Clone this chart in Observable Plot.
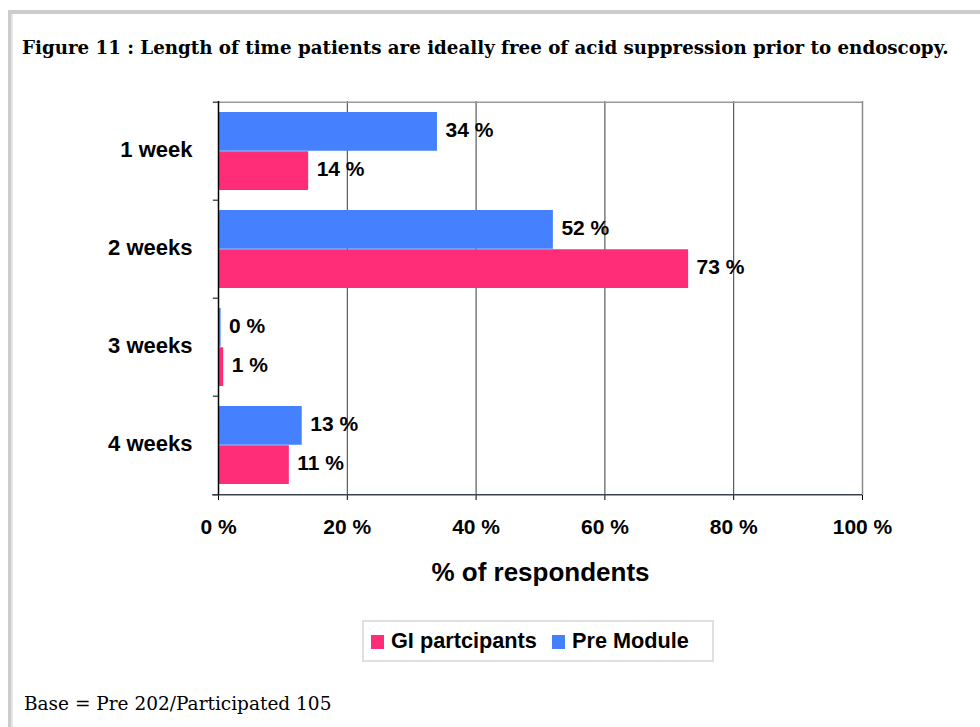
<!DOCTYPE html>
<html>
<head>
<meta charset="utf-8">
<script src="https://cdn.jsdelivr.net/npm/d3@7"></script>
<script src="https://cdn.jsdelivr.net/npm/@observablehq/plot@0.6"></script>
<style>
  html, body { margin: 0; padding: 0; background: #fff; }
  #page { position: relative; width: 980px; height: 727px; overflow: hidden; background: #fff; }
  #frame { position: absolute; left: 8px; top: 10px; width: 990px; height: 740px;
           border-top: 4px solid #cccccc; border-left: 3px solid #cccccc; box-shadow: inset 2px 0 0 #e6e6e6; }
  #title { position: absolute; left: 22px; top: 37px; font-family: "DejaVu Serif", serif; font-weight: bold;
           font-size: 18.25px; color: #000; white-space: nowrap; }
  #chart { position: absolute; left: 0; top: 0; }
  #legend { position: absolute; left: 362px; top: 620px; width: 348px; height: 38px; border: 2px solid #e0e0e0;
            background: #fff; font-family: "Liberation Sans", Arial, sans-serif; font-weight: bold; font-size: 21.7px; }
  #legend .item { position: absolute; top: 7px; white-space: nowrap; line-height: 24px; }
  #legend .sw { display: inline-block; width: 13px; height: 14px; vertical-align: -1px; margin-right: 7px; }
  #base { position: absolute; left: 24px; top: 693px; font-family: "DejaVu Serif", serif; font-size: 18.5px; color: #000; white-space: nowrap; }
  #chart g[aria-label="x-axis label"] text { font-size: 26px; }
</style>
</head>
<body>
<div id="page">
  <div id="frame"></div>
  <div id="title"></div>
  <div id="chart"></div>
  <div id="legend"></div>
  <div id="base"></div>
</div>
<script>
// ---- data ----
const titleText = "Figure 11 : Length of time patients are ideally free of acid suppression prior to endoscopy.";
const baseText = "Base = Pre 202/Participated 105";
const categories = ["1 week", "2 weeks", "3 weeks", "4 weeks"];
const seriesNames = ["GI partcipants", "Pre Module"];
const seriesColors = ["#ff2d78", "#4580ff"];
const giValues = [14, 73, 0.8, 11];
const preValues = [34, 52, 0.4, 13];
const xTicks = [0, 20, 40, 60, 80, 100];
const gridTicks = [20, 40, 60, 80];
const xLabel = "% of respondents";

// ---- build table ----
const rows = [];
categories.forEach((c, i) => {
  rows.push({cat: c, series: seriesNames[1], value: preValues[i], pos: "top"});
  rows.push({cat: c, series: seriesNames[0], value: giValues[i], pos: "bottom"});
});
const topRows = rows.filter(d => d.pos === "top");
const botRows = rows.filter(d => d.pos === "bottom");

const W = 980, H = 600;
const mTop = 101, mBottom = H - 495, mLeft = 218, mRight = W - 862;
const band = (H - mTop - mBottom) / categories.length;
const half = band / 2;
const outer = 10;
const mid = half;   // split point inside band
const fmt = v => `${Math.round(v)} %`;

const chart = Plot.plot({
  width: W,
  height: H,
  marginTop: mTop,
  marginBottom: mBottom,
  marginLeft: mLeft,
  marginRight: mRight,
  style: {fontFamily: "'Liberation Sans', Arial, sans-serif", fontSize: "21px", fontWeight: "bold", color: "#000", background: "transparent", overflow: "visible"},
  x: {domain: [0, 100], ticks: xTicks, tickFormat: d => `${d} %`, tickSize: 5, tickPadding: 19,
      label: xLabel, labelAnchor: "center", labelOffset: 85, labelArrow: "none"},
  y: {domain: categories, padding: 0, axis: null},
  color: {domain: seriesNames, range: seriesColors},
  marks: [
    // category axis
    Plot.axisY({tickSize: 0, tickPadding: 26, label: null, dy: -2, fontSize: 22}),
    // grid lines
    Plot.ruleX(gridTicks, {stroke: "#3a3a3a", strokeWidth: 1}),
    // right border
    Plot.ruleX([100], {stroke: "#8a8a8a", strokeWidth: 1.5}),
    // top border
    Plot.ruleY([categories[0]], {dy: -half, x1: 0, x2: 100, stroke: "#9a9a9a", strokeWidth: 1.5}),
    // bars
    Plot.barX(topRows, {x: "value", y: "cat", fill: "series", insetTop: outer, insetBottom: band - mid}),
    Plot.barX(botRows, {x: "value", y: "cat", fill: "series", insetTop: mid, insetBottom: outer}),
    // band boundary ticks on the y axis
    Plot.ruleY(categories, {dy: -half, x1: -0.8, x2: 0, stroke: "#555", strokeWidth: 1.5}),
    Plot.ruleY([categories[categories.length - 1]], {dy: half, x1: -0.8, x2: 0, stroke: "#555", strokeWidth: 1.5}),
    // bottom axis line
    Plot.ruleY([categories[categories.length - 1]], {dy: half, x1: -0.9, x2: 100, stroke: "#3c4250", strokeWidth: 1.5}),
    // left axis line
    Plot.ruleX([0], {stroke: "#000", strokeWidth: 1.5}),
    // value labels
    Plot.text(topRows, {x: "value", y: "cat", text: d => fmt(d.value), textAnchor: "start", dx: 8,
      dy: -(half - (outer + (mid - outer) / 2)) - 2, fill: "#000", fontWeight: "bold", fontSize: 21}),
    Plot.text(botRows, {x: "value", y: "cat", text: d => fmt(d.value), textAnchor: "start", dx: 8,
      dy: (mid + (band - outer - mid) / 2) - half - 2, fill: "#000", fontWeight: "bold", fontSize: 21})
  ]
});
document.getElementById("chart").appendChild(chart);

// ---- text & legend ----
document.getElementById("title").textContent = titleText;
document.getElementById("base").textContent = baseText;
const legend = document.getElementById("legend");
const legendOrder = [0, 1];
const itemLeft = [7, 188];
legendOrder.forEach((i, k) => {
  const it = document.createElement("div");
  it.className = "item";
  it.style.left = itemLeft[k] + "px";
  const sw = document.createElement("span");
  sw.className = "sw";
  sw.style.background = seriesColors[i];
  it.appendChild(sw);
  it.appendChild(document.createTextNode(seriesNames[i]));
  legend.appendChild(it);
});
</script>
</body>
</html>
